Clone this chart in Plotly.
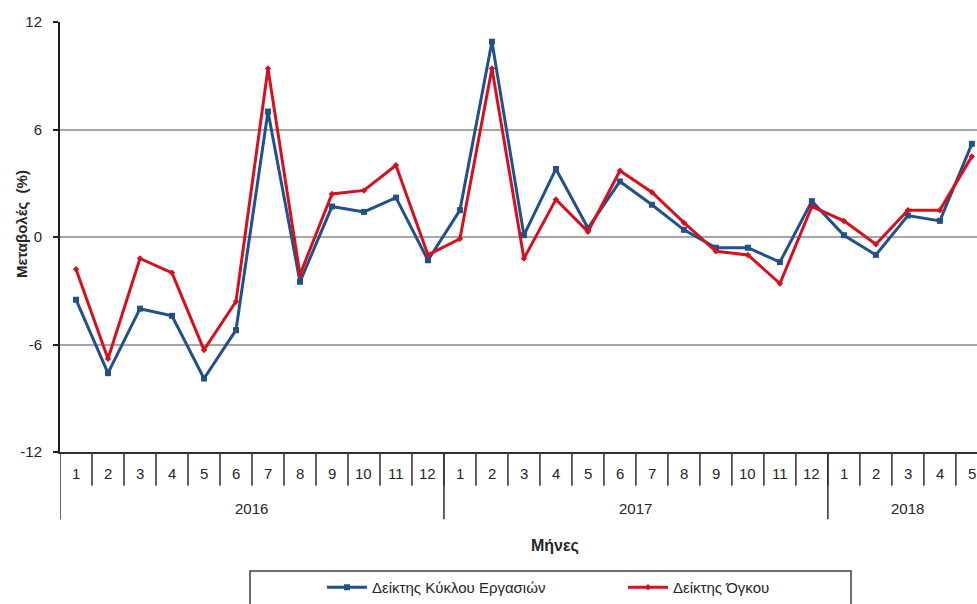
import plotly.graph_objects as go

# Monthly labels along the x axis, grouped by year
years = ["2016", "2017", "2018"]
year_lengths = [12, 12, 5]
month_labels = ["1", "2", "3", "4", "5", "6", "7", "8", "9", "10", "11", "12",
                "1", "2", "3", "4", "5", "6", "7", "8", "9", "10", "11", "12",
                "1", "2", "3", "4", "5"]
y_ticks = [-12, -6, 0, 6, 12]
y_tick_labels = ["-12", "-6", "0", "6", "12"]

# Year-on-year change (%)
turnover_index = [-3.5, -7.6, -4.0, -4.4, -7.9, -5.2, 7.0, -2.5, 1.7, 1.4, 2.2, -1.3,
                  1.5, 10.9, 0.1, 3.8, 0.5, 3.1, 1.8, 0.4, -0.6, -0.6, -1.4, 2.0,
                  0.1, -1.0, 1.2, 0.9, 5.2]
volume_index = [-1.8, -6.8, -1.2, -2.0, -6.3, -3.6, 9.4, -2.1, 2.4, 2.6, 4.0, -1.0,
                -0.1, 9.4, -1.2, 2.1, 0.3, 3.7, 2.5, 0.8, -0.8, -1.0, -2.6, 1.7,
                0.9, -0.4, 1.5, 1.5, 4.5]

BLUE = "#22508D"
RED = "#D7101E"
FONT = "Liberation Sans, Arial, sans-serif"
TEXT = "#262626"

W, H = 977, 604
ML, MR, MT, MB = 60, 0, 22, 148
PH = H - MT - MB          # plot height in px
PW = W - ML - MR          # plot width in px

def py(px_below):
    """Paper y for a distance in px below the x axis line."""
    return -px_below / PH

def px(x_pixel):
    """Paper x for an absolute pixel column."""
    return (x_pixel - ML) / PW

xs = list(range(len(month_labels)))

fig = go.Figure()
fig.add_trace(go.Scatter(
    x=xs, y=turnover_index, mode="lines+markers", name="Δείκτης Κύκλου Εργασιών",
    line=dict(color=BLUE, width=3), marker=dict(symbol="square", size=6, color=BLUE),
))
fig.add_trace(go.Scatter(
    x=xs, y=volume_index, mode="lines+markers", name="Δείκτης Όγκου",
    line=dict(color=RED, width=3), marker=dict(symbol="diamond", size=5, color=RED),
))

shapes = []
annotations = []

# month separators and labels
for i, lab in enumerate(month_labels):
    if i > 0:
        shapes.append(dict(type="line", xref="x", yref="paper", x0=i - 0.5, x1=i - 0.5,
                           y0=0, y1=py(34), line=dict(color="#303030", width=1.5)))
    annotations.append(dict(xref="x", yref="paper", x=i, y=py(22), text=lab, showarrow=False,
                            xanchor="center", yanchor="middle",
                            font=dict(family=FONT, size=15, color=TEXT)))

# year dividers and labels
start = 0
for yr, n in zip(years, year_lengths):
    shapes.append(dict(type="line", xref="x", yref="paper", x0=start - 0.5, x1=start - 0.5,
                       y0=0, y1=py(68), line=dict(color="#303030", width=1.5)))
    annotations.append(dict(xref="x", yref="paper", x=start + (n - 1) / 2, y=py(57), text=yr,
                            showarrow=False, xanchor="center", yanchor="middle",
                            font=dict(family=FONT, size=15, color=TEXT)))
    start += n

# axis titles
annotations.append(dict(xref="paper", yref="paper", x=px(555), y=py(95),
                        text="<b>Μήνες</b>", showarrow=False, xanchor="center", yanchor="middle",
                        font=dict(family=FONT, size=16, color=TEXT)))
annotations.append(dict(xref="paper", yref="paper", x=px(21),
                        y=(H - MB - 226) / PH, text="<b>Μεταβολές  (%)</b>", textangle=-90,
                        showarrow=False, xanchor="center", yanchor="middle",
                        font=dict(family=FONT, size=15, color=TEXT)))

# legend frame
shapes.append(dict(type="rect", xref="paper", yref="paper",
                   x0=px(250), x1=px(851), y0=py(120), y1=py(170),
                   line=dict(color="#404040", width=1.5)))

fig.update_layout(
    width=W, height=H,
    margin=dict(l=ML, r=MR, t=MT, b=MB),
    paper_bgcolor="white", plot_bgcolor="white",
    font=dict(family=FONT, size=15, color=TEXT),
    showlegend=True,
    legend=dict(orientation="h", x=px(322), xanchor="left",
                y=py(137), yanchor="middle", bgcolor="rgba(0,0,0,0)",
                font=dict(family=FONT, size=15, color=TEXT),
                entrywidth=246, entrywidthmode="pixels", itemwidth=40),
    shapes=shapes,
    annotations=annotations,
)
fig.update_xaxes(range=[-0.5, 28.16], showticklabels=False, showgrid=False, zeroline=False,
                 showline=True, linecolor="#303030", linewidth=2, ticks="")
fig.update_yaxes(range=[-12, 12], tickvals=y_ticks, ticktext=y_tick_labels, showgrid=True,
                 gridcolor="#A6A6A6", gridwidth=2, zeroline=False,
                 showline=True, linecolor="#202020", linewidth=2,
                 ticks="outside", ticklen=5, tickcolor="#202020", tickwidth=1.5,
                 ticklabelstandoff=8, tickfont=dict(family=FONT, size=15, color=TEXT))

fig.write_html("out.html")
